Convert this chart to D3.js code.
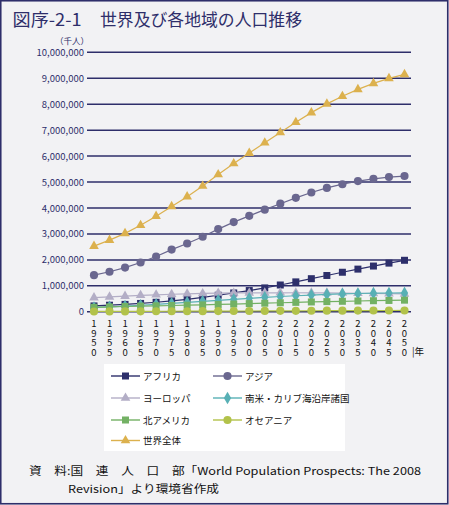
<!DOCTYPE html>
<html><head><meta charset="utf-8">
<script src="https://cdn.jsdelivr.net/npm/d3@7"></script>
<style>
html,body{margin:0;padding:0;background:#f2f2f4;}
svg{display:block;}
text{font-family:"MS Gothic","Noto Sans CJK JP",sans-serif;}
.vt{writing-mode:vertical-rl;text-orientation:upright;}
</style></head>
<body>
<svg id="c" width="449" height="505"></svg>
<script>
const years = [1950,1955,1960,1965,1970,1975,1980,1985,1990,1995,2000,2005,2010,2015,2020,2025,2030,2035,2040,2045,2050];
const yTicks = [0,1000000,2000000,3000000,4000000,5000000,6000000,7000000,8000000,9000000,10000000];
const africa  = [227000,254000,285000,322000,367000,419000,482000,556000,638000,726000,819000,921000,1033000,1153000,1276000,1400000,1524000,1645000,1763000,1876000,1985000];
const asia    = [1411000,1542000,1704000,1899000,2132000,2397000,2633000,2894000,3186000,3457000,3698000,3937000,4166000,4391000,4596000,4773000,4917000,5037000,5125000,5193000,5231000];
const europe  = [547000,575000,604000,634000,656000,676000,693000,707000,721000,727000,727000,729000,733000,734000,733000,729000,723000,715000,706000,699000,691000];
const latam   = [167000,191000,220000,253000,286000,323000,362000,402000,442000,482000,521000,557000,589000,618000,646000,670000,690000,706000,718000,725000,729000];
const namerica= [172000,187000,204000,219000,231000,242000,254000,267000,283000,299000,316000,332000,348000,364000,379000,393000,405000,417000,427000,437000,448000];
const oceania = [12800,14300,15900,17600,19700,21500,22900,24800,27000,29000,31200,33400,35800,38100,40500,42800,45000,47000,48900,50500,51300];
const world   = [2529000,2763000,3023000,3332000,3686000,4061000,4438000,4846000,5290000,5713000,6115000,6512000,6909000,7302000,7675000,8012000,8309000,8571000,8801000,8996000,9150000];

const seriesNames = ["アフリカ","アジア","ヨーロッパ","南米・カリブ海沿岸諸国","北アメリカ","オセアニア","世界全体"];
const seriesValues = [africa, asia, europe, latam, namerica, oceania, world];
const seriesColors = ["#2d2f6b","#6a678f","#b3aec6","#58b0b5","#73b164","#b2c24a","#dcb14e"];
const seriesShapes = ["square","circle","triangle","diamond","square","circle","triangle"];

const svg = d3.select("#c");
const navy = "#2e2e6a";

// frame
svg.append("rect").attr("x",0.75).attr("y",0.75).attr("width",447).attr("height",503)
  .attr("fill","#f2f2f4").attr("stroke",navy).attr("stroke-width",1.6);

// title
svg.append("text").attr("x",12.5).attr("y",26).attr("font-size",17).attr("fill",navy)
  .attr("textLength",69).attr("lengthAdjust","spacingAndGlyphs").text("図序-2-1");
svg.append("text").attr("x",100).attr("y",26).attr("font-size",17).attr("fill",navy)
  .attr("textLength",202).attr("lengthAdjust","spacingAndGlyphs").text("世界及び各地域の人口推移");

const x = d3.scalePoint().domain(years).range([94, 404.5]);
const y = d3.scaleLinear().domain([0,10000000]).range([311.8, 52.3]);

// gridlines
svg.append("g").selectAll("line").data(yTicks).join("line")
  .attr("x1",87).attr("x2",411).attr("y1",d=>y(d)).attr("y2",d=>y(d))
  .attr("stroke",navy).attr("stroke-width",1.5);

// y labels
svg.append("g").selectAll("text").data(yTicks).join("text")
  .attr("x",84).attr("y",d=>y(d)+3.5).attr("text-anchor","end")
  .attr("font-size",9.5).attr("fill",navy)
  .text(d=>d3.format(",")(d));
svg.append("text").attr("x",72).attr("y",44).attr("text-anchor","middle")
  .attr("font-size",8.5).attr("fill",navy).text("（千人）");

// x labels (vertical digits, one text per year)
svg.append("g").selectAll("text").data(years).join("text")
  .attr("class","vt").attr("x",d=>x(d)).attr("y",318.5)
  .attr("font-size",9.5).attr("letter-spacing",0.2).attr("fill","#111")
  .text(d=>String(d));
svg.append("text").attr("x",412).attr("y",354.5).attr("font-size",9.5).attr("fill","#111").text("|年");

// marker symbol
function sym(shape){
  const t = {square:d3.symbolSquare, circle:d3.symbolCircle, triangle:d3.symbolTriangle, diamond:d3.symbolDiamond}[shape];
  const s = {square:49, circle:52, triangle:40, diamond:46}[shape];
  return d3.symbol().type(t).size(s)();
}

const line = d3.line().x((d,i)=>x(years[i])).y(d=>y(d));
seriesValues.forEach((vals,k)=>{
  const g = svg.append("g");
  g.append("path").attr("d",line(vals)).attr("fill","none")
    .attr("stroke",seriesColors[k]).attr("stroke-width",1.2);
  g.selectAll("path.m").data(vals).join("path").attr("class","m")
    .attr("transform",(d,i)=>`translate(${x(years[i])},${y(d)})`)
    .attr("d",sym(seriesShapes[k])).attr("fill",seriesColors[k]);
});

// legend
svg.append("rect").attr("x",104).attr("y",364).attr("width",241).attr("height",87).attr("fill","#ffffff");
const legPos = [[111,376],[213,376],[111,398],[213,398],[111,420],[213,420],[111,440.5]];
seriesNames.forEach((n,k)=>{
  const [lx,ly] = legPos[k];
  const g = svg.append("g");
  g.append("line").attr("x1",lx).attr("x2",lx+29).attr("y1",ly).attr("y2",ly)
    .attr("stroke",seriesColors[k]).attr("stroke-width",1.4);
  g.append("path").attr("transform",`translate(${lx+14.5},${ly})`)
    .attr("d",sym(seriesShapes[k])).attr("fill",seriesColors[k]);
  g.append("text").attr("x",lx+32).attr("y",ly+3.5).attr("font-size",9.5).attr("fill","#111").text(n);
});

// source
svg.append("text").attr("x",29).attr("y",475).attr("font-size",11).attr("fill","#111")
  .attr("textLength",392).attr("lengthAdjust","spacingAndGlyphs")
  .text("資　料:国　連　人　口　部「World Population Prospects: The 2008");
svg.append("text").attr("x",68).attr("y",493).attr("font-size",11).attr("fill","#111")
  .attr("textLength",151).attr("lengthAdjust","spacingAndGlyphs")
  .text("Revision」より環境省作成");
</script>
</body></html>
